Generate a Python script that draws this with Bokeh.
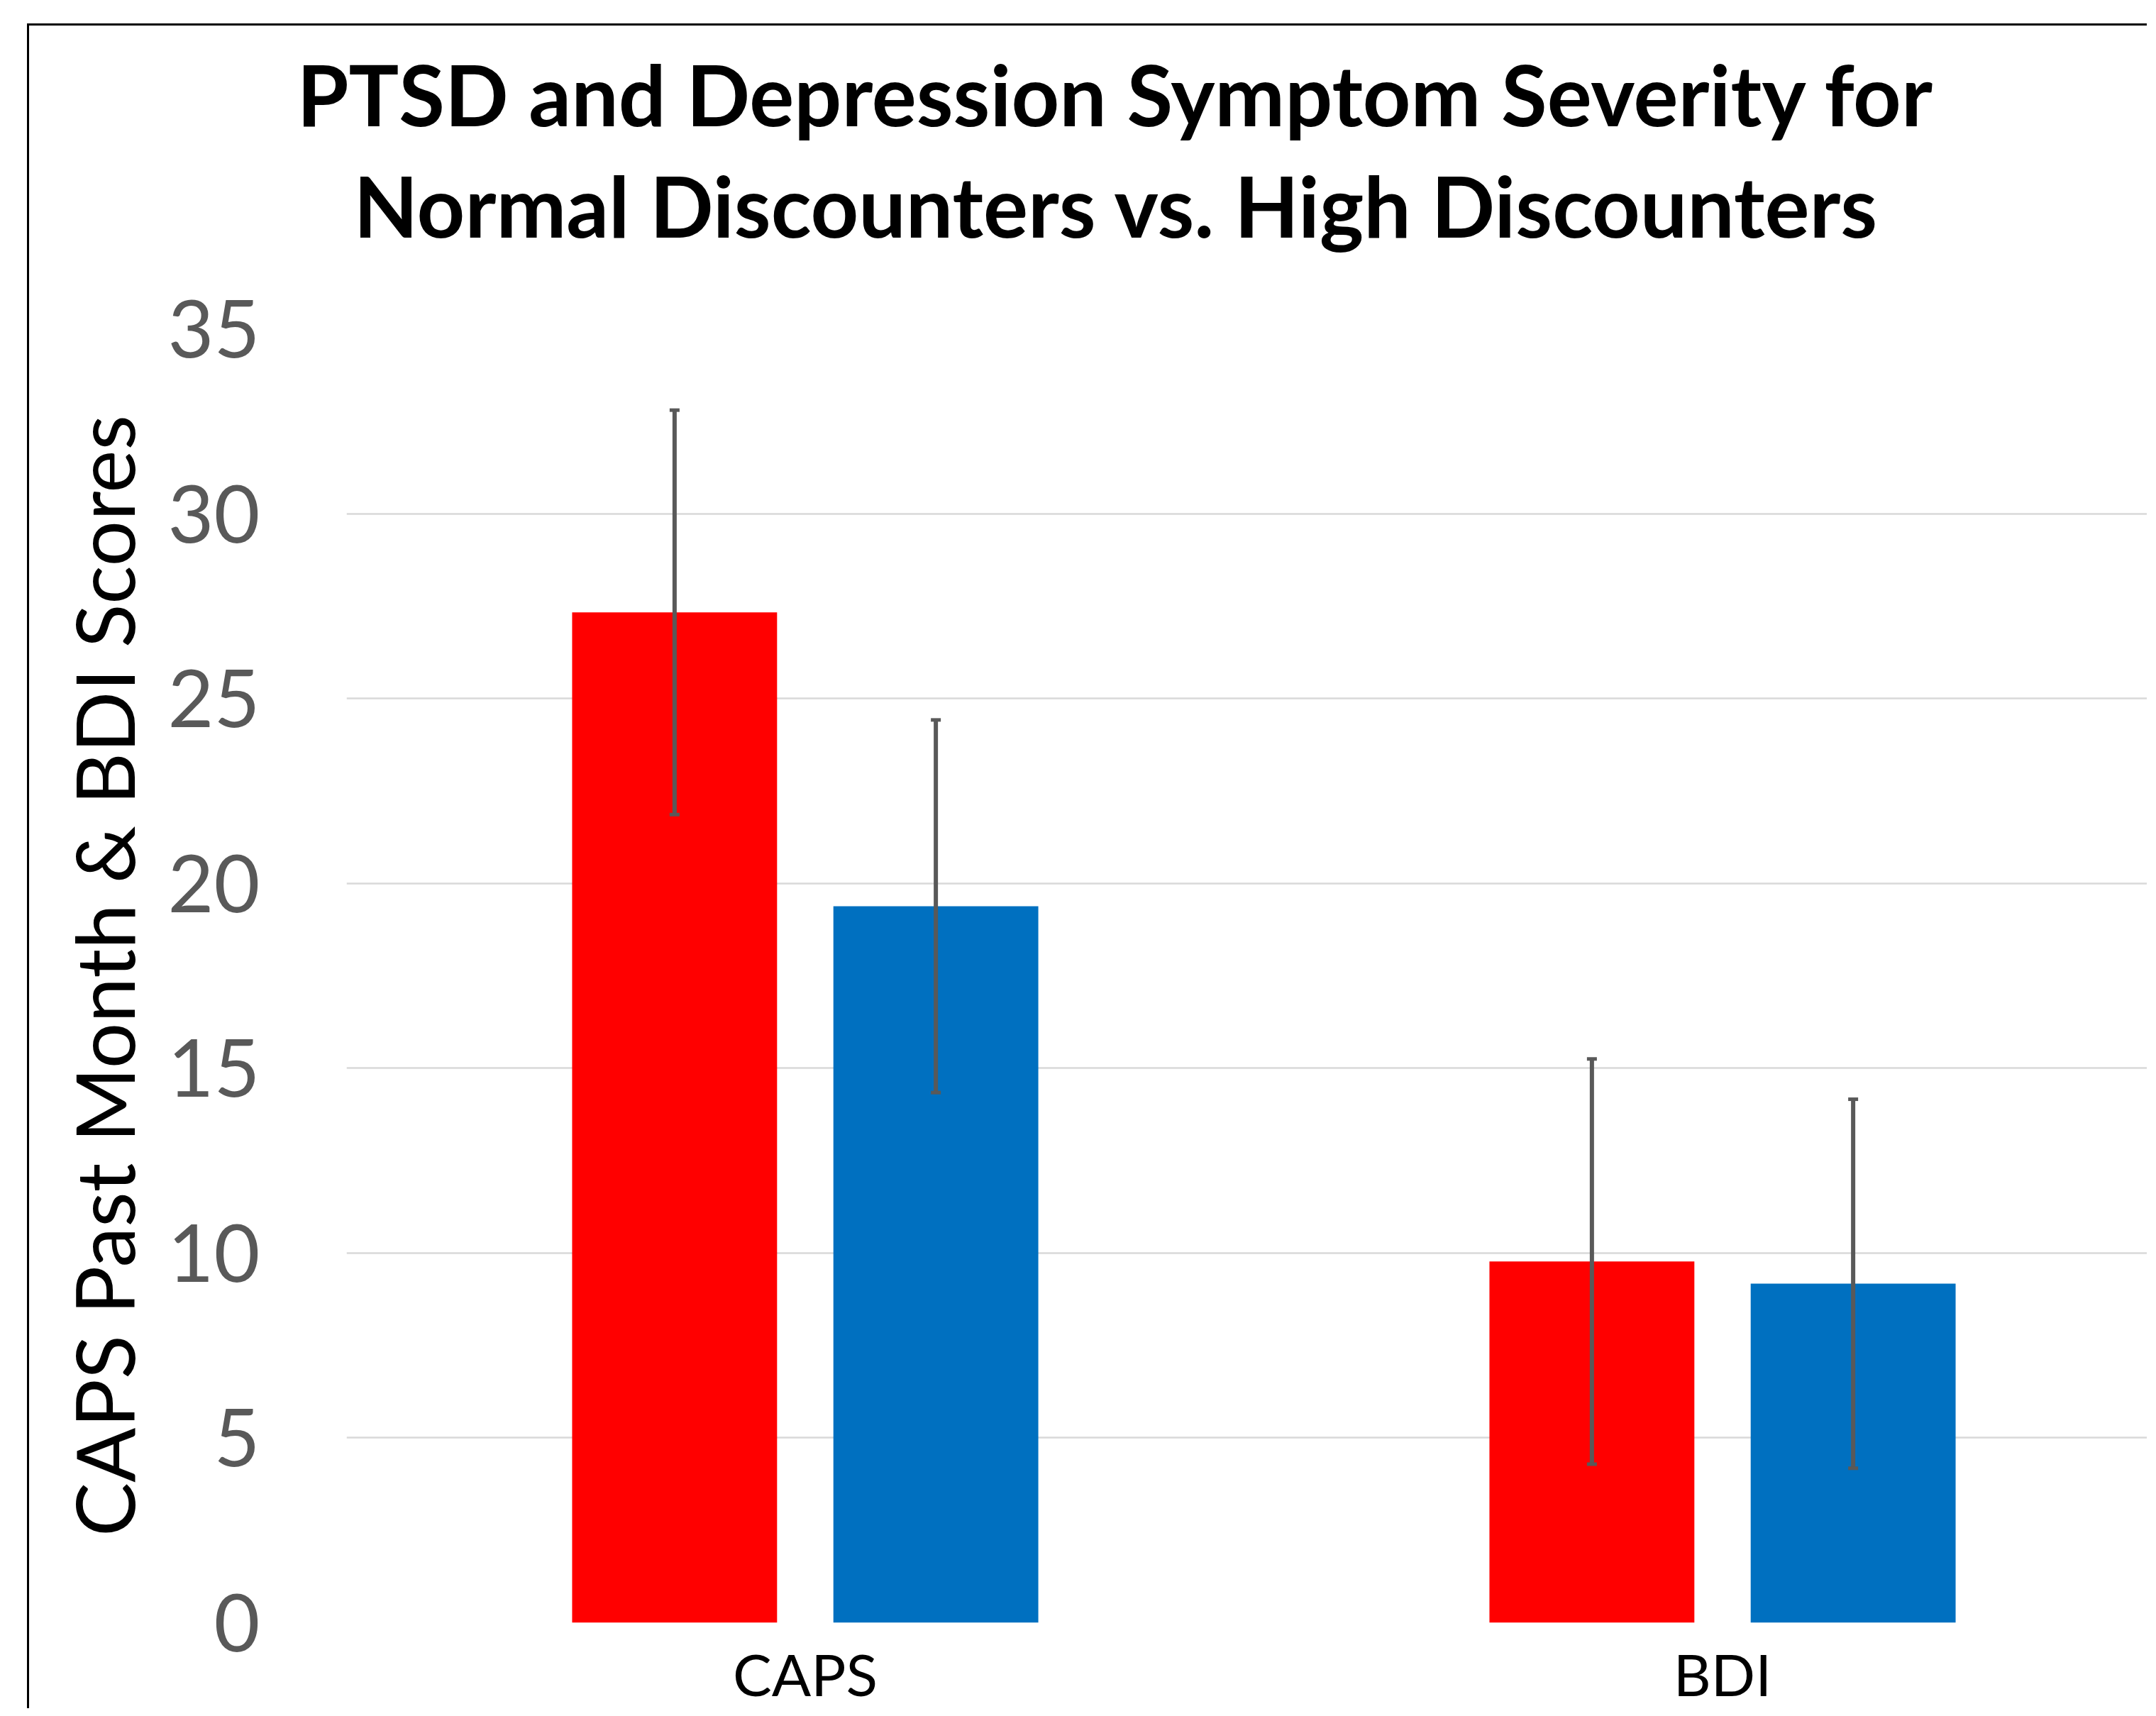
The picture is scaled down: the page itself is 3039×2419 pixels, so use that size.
from bokeh.plotting import figure
from bokeh.models import Range1d, FixedTicker, ColumnDataSource, Whisker, TeeHead, Title
from bokeh.embed import file_html
from bokeh.resources import INLINE

# ---- data ----
categories = ["CAPS", "BDI"]
normal_discounters = [27.33, 9.77]
normal_err = [5.47, 5.48]
high_discounters = [19.38, 9.17]
high_err = [5.04, 4.99]
y_ticks = [0, 5, 10, 15, 20, 25, 30, 35]
title_lines = ["PTSD and Depression Symptom Severity for",
               "Normal Discounters vs. High Discounters"]
y_title = "CAPS Past Month & BDI Scores"

# ---- layout constants ----
W, H = 2988, 2375
FL, FT, FB = 447, 427, 2251
cat_px = 1293.0
x_span = (W - FL) / cat_px
bar_w = 0.2234
offsets = [-0.1424, 0.1424]
colors = ["#FF0000", "#0070C0"]
FONT = "Lato"

p = figure(width=W, height=H,
           x_range=Range1d(0.5, 0.5 + x_span), y_range=Range1d(0, 35),
           output_backend="svg", toolbar_location=None,
           min_border_left=FL, min_border_right=0,
           min_border_top=FT, min_border_bottom=H - FB)
p.outline_line_color = None
p.background_fill_color = "white"
p.border_fill_color = "white"
p.styles = {"margin-left": "38px", "margin-top": "33px",
            "border-left": "3px solid black", "border-top": "3px solid black"}

xs = [i + 1 for i in range(len(categories))]
for series, errs, off, col in [(normal_discounters, normal_err, offsets[0], colors[0]),
                               (high_discounters, high_err, offsets[1], colors[1])]:
    bx = [x + off for x in xs]
    src = ColumnDataSource(dict(x=bx, top=series,
                                upper=[v + e for v, e in zip(series, errs)],
                                lower=[v - e for v, e in zip(series, errs)]))
    p.vbar(x="x", top="top", bottom=0, width=bar_w, source=src,
           fill_color=col, line_color=None)
    wh = Whisker(base="x", upper="upper", lower="lower", source=src,
                 line_color="#595959", line_width=6, level="overlay",
                 upper_head=TeeHead(size=14, line_color="#595959", line_width=5),
                 lower_head=TeeHead(size=14, line_color="#595959", line_width=5))
    p.add_layout(wh)

# grid
p.xgrid.visible = False
p.ygrid.grid_line_color = "#D9D9D9"
p.ygrid.grid_line_width = 2.5
p.ygrid.ticker = FixedTicker(ticks=y_ticks)

# y axis
p.yaxis.ticker = FixedTicker(ticks=y_ticks)
p.yaxis.axis_line_color = None
p.yaxis.major_tick_line_color = None
p.yaxis.minor_tick_line_color = None
p.yaxis.major_tick_in = 0
p.yaxis.major_tick_out = 0
p.yaxis.major_label_text_font = FONT
p.yaxis.major_label_text_font_size = "112px"
p.yaxis.major_label_text_color = "#595959"
p.yaxis.major_label_standoff = 122
p.yaxis.axis_label = y_title
p.yaxis.axis_label_text_font = FONT
p.yaxis.axis_label_text_font_style = "normal"
p.yaxis.axis_label_text_font_size = "114px"
p.yaxis.axis_label_text_color = "black"
p.yaxis.axis_label_standoff = 20

# x axis
p.xaxis.ticker = FixedTicker(ticks=xs)
p.xaxis.major_label_overrides = {x: c for x, c in zip(xs, categories)}
p.xaxis.axis_line_color = None
p.xaxis.major_tick_line_color = None
p.xaxis.minor_tick_line_color = None
p.xaxis.major_tick_in = 0
p.xaxis.major_tick_out = 0
p.xaxis.major_label_text_font = FONT
p.xaxis.major_label_text_font_size = "82px"
p.xaxis.major_label_text_color = "black"
p.xaxis.major_label_standoff = 22

# title: spacer nearest the plot, then line 2, then line 1
p.add_layout(Title(text=" ", standoff=96, text_font_size="1px"), "above")
p.add_layout(Title(text=title_lines[1], align="left", offset=10, standoff=10,
                   text_font=FONT, text_font_style="bold", text_font_size="118px",
                   text_color="black"), "above")
p.add_layout(Title(text=title_lines[0], align="left", offset=-70, standoff=17,
                   text_font=FONT, text_font_style="bold", text_font_size="118px",
                   text_color="black"), "above")

open("out.html", "w").write(file_html(p, INLINE))
